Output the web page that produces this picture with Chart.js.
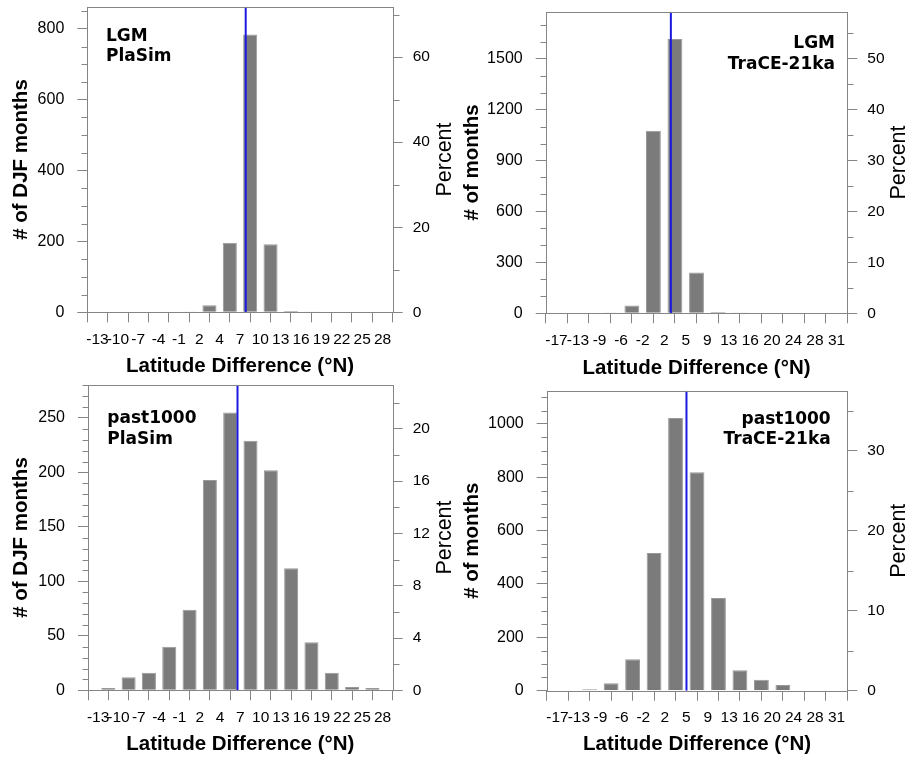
<!DOCTYPE html>
<html>
<head>
<meta charset="utf-8">
<script src="https://cdn.jsdelivr.net/npm/chart.js@4.4.0/dist/chart.umd.min.js"></script>
<style>
  html, body { margin: 0; padding: 0; background: #fff; }
  #wrap { position: relative; width: 908px; height: 757px; }
  canvas { position: absolute; }
</style>
</head>
<body>
<div id="wrap">
  <canvas id="c1" width="454" height="378" style="left:0;top:0"></canvas>
  <canvas id="c2" width="454" height="378" style="left:454px;top:0"></canvas>
  <canvas id="c3" width="454" height="379" style="left:0;top:378px"></canvas>
  <canvas id="c4" width="454" height="379" style="left:454px;top:378px"></canvas>
</div>
<script>
// bin edges (tick labels, °N)
const plasimEdges = ['-13', '-10', '-7', '-4', '-1', '2', '4', '7', '10', '13', '16', '19', '22', '25', '28'];
const traceEdges = ['-17', '-13', '-9', '-6', '-2', '2', '5', '9', '13', '16', '20', '24', '28', '31'];

// counts per bin
const lgmPlasimCounts = [0, 0, 0, 0, 2, 20, 196, 784, 192, 4, 2, 0, 0, 0];
const lgmTraceCounts = [0, 0, 1, 46, 1075, 1615, 240, 7, 1, 0, 0, 0, 0];
const pastPlasimCounts = [2, 12, 16, 40, 74, 193, 255, 229, 202, 112, 44, 16, 3, 2];
const pastTraceCounts = [0, 5, 28, 118, 516, 1022, 819, 347, 77, 41, 21, 0, 0];

// total number of months in each run (Percent axis)
const lgmPlasimTotal = 1200;
const lgmTraceTotal = 3000;
const pastPlasimTotal = 1200;
const pastTraceTotal = 3000;

// mean position (blue line), in bins from the left edge
const lgmPlasimMean = 7.28;
const lgmTraceMean = 5.31;
const pastPlasimMean = 6.86;
const pastTraceMean = 6.01;

const axisColor = '#858585';
const barColor = '#7b7b7b';
const meanColor = 'rgb(25, 25, 225)';
const fontFamily = '"Liberation Sans", Arial, sans-serif';

const panels = [
  { id: 'c1', edges: plasimEdges, counts: lgmPlasimCounts, total: lgmPlasimTotal, mean: lgmPlasimMean,
    ytitle: '# of DJF months', label: ['LGM', 'PlaSim'], major: 200, minor: 50, pMajor: 20, pMinor: 10,
    L: 87.3, R: 392.7, T: 6.7, B: 312.3, H: 378, xtY: 366.7, ytX: 21.7,
    labelAlign: 'left', labelDx: 18.7, labelDy: 34 },
  { id: 'c2', edges: traceEdges, counts: lgmTraceCounts, total: lgmTraceTotal, mean: lgmTraceMean,
    ytitle: '# of months', label: ['LGM', 'TraCE-21ka'], major: 300, minor: 100, pMajor: 10, pMinor: 5,
    L: 91.7, R: 393.3, T: 11.7, B: 313.3, H: 378, xtY: 368.3, ytX: 18.3,
    labelAlign: 'right', labelDx: 12.3, labelDy: 36.6 },
  { id: 'c3', edges: plasimEdges, counts: pastPlasimCounts, total: pastPlasimTotal, mean: pastPlasimMean,
    ytitle: '# of DJF months', label: ['past1000', 'PlaSim'], major: 50, minor: 10, pMajor: 4, pMinor: 2,
    L: 88, R: 392.7, T: 6.7, B: 312.3, H: 379, xtY: 366.7, ytX: 21.7,
    labelAlign: 'left', labelDx: 19.3, labelDy: 38.3 },
  { id: 'c4', edges: traceEdges, counts: pastTraceCounts, total: pastTraceTotal, mean: pastTraceMean,
    ytitle: '# of months', label: ['past1000', 'TraCE-21ka'], major: 200, minor: 50, pMajor: 10, pMinor: 5,
    L: 92.7, R: 393.3, T: 12.7, B: 312.7, H: 379, xtY: 366.7, ytX: 18.3,
    labelAlign: 'right', labelDx: 16.6, labelDy: 33 }
];

// ticks at every multiple of step, up to the axis max
const stepTicks = step => s => {
  s.ticks = [];
  for (let v = 0; v <= s.max + 1e-9; v += step) s.ticks.push({ value: v });
};

// frame, minor ticks, run label and right-hand "Percent" title
const panelPlugin = {
  id: 'panel',
  afterDraw(chart, args, o) {
    const { ctx, chartArea: a } = chart;
    const yL = chart.scales.y, yR = chart.scales.y2;
    ctx.save();
    ctx.strokeStyle = axisColor;
    ctx.lineWidth = 1;
    const l = Math.round(a.left) + 0.5, t = Math.round(a.top) + 0.5;
    const r = Math.round(a.right) + 0.5, b = Math.round(a.bottom) + 0.5;
    ctx.strokeRect(l, t, r - l, b - t);

    const isMajor = (v, m) => Math.abs(v / m - Math.round(v / m)) < 1e-6;
    ctx.beginPath();
    for (let v = o.minor; v < yL.max; v += o.minor) {
      if (isMajor(v, o.major)) continue;
      const py = Math.round(yL.getPixelForValue(v)) + 0.5;
      ctx.moveTo(l - 6, py); ctx.lineTo(l, py);
    }
    for (let v = o.pMinor; v < yR.max; v += o.pMinor) {
      if (isMajor(v, o.pMajor)) continue;
      const py = Math.round(yR.getPixelForValue(v)) + 0.5;
      ctx.moveTo(r, py); ctx.lineTo(r + 6, py);
    }
    ctx.stroke();

    ctx.fillStyle = '#000';
    ctx.font = 'bold 17px "DejaVu Sans"';
    ctx.textAlign = o.labelAlign;
    ctx.textBaseline = 'alphabetic';
    const x = o.labelAlign === 'left' ? a.left + o.labelDx : a.right - o.labelDx;
    o.label.forEach((txt, i) => ctx.fillText(txt, x, a.top + o.labelDy + i * 20.5));

    ctx.font = '21.5px ' + fontFamily;
    ctx.textAlign = 'center';
    ctx.textBaseline = 'middle';
    ctx.translate(445, (a.top + a.bottom) / 2);
    ctx.rotate(-Math.PI / 2);
    ctx.fillText('Percent', 0, 0);
    ctx.restore();
  }
};

panels.forEach(p => {
  const n = p.counts.length;
  const ymax = Math.max(...p.counts) * 1.1;
  const W = 454;

  new Chart(document.getElementById(p.id), {
    data: {
      datasets: [
        {
          type: 'bar',
          data: p.counts.map((c, i) => ({ x: i + 0.5, y: c })),
          backgroundColor: barColor,
          borderColor: '#999999',
          borderWidth: 1,
          barPercentage: 0.69,
          categoryPercentage: 1,
          order: 1
        },
        {
          type: 'line',
          data: [{ x: p.mean, y: 0 }, { x: p.mean, y: ymax }],
          borderColor: meanColor,
          borderWidth: 2,
          pointRadius: 0,
          order: 0
        }
      ]
    },
    plugins: [panelPlugin],
    options: {
      responsive: false,
      animation: false,
      layout: { padding: { top: p.T, left: 0, right: 0, bottom: 0 } },
      plugins: {
        legend: { display: false },
        tooltip: { enabled: false },
        panel: {
          label: p.label, labelAlign: p.labelAlign, labelDx: p.labelDx, labelDy: p.labelDy,
          major: p.major, minor: p.minor, pMajor: p.pMajor, pMinor: p.pMinor
        }
      },
      scales: {
        x: {
          type: 'linear',
          min: 0,
          max: n,
          afterFit: s => { s.height = p.H - p.B; s.paddingLeft = 0; s.paddingRight = 0; },
          afterBuildTicks: stepTicks(1),
          border: { display: false },
          grid: { drawOnChartArea: false, color: axisColor, tickLength: 10 },
          ticks: {
            autoSkip: false, maxRotation: 0, minRotation: 0, padding: 8,
            color: '#000', font: { family: fontFamily, size: 15.5 },
            callback: v => p.edges[Math.round(v)]
          },
          title: {
            display: true, text: 'Latitude Difference (°N)', color: '#000',
            font: { family: fontFamily, size: 20.5, weight: 'bold', lineHeight: 1 },
            padding: { top: 0, bottom: (p.H - p.xtY) - 10.25 }
          }
        },
        y: {
          position: 'left',
          min: 0,
          max: ymax,
          afterFit: s => { s.width = p.L; s.paddingTop = 0; s.paddingBottom = 0; },
          afterBuildTicks: stepTicks(p.major),
          border: { display: false },
          grid: { drawOnChartArea: false, color: axisColor, tickLength: 10 },
          ticks: {
            padding: 13, color: '#000', font: { family: fontFamily, size: 16 },
            callback: v => String(Math.round(v))
          },
          title: {
            display: true, text: p.ytitle, color: '#000',
            font: { family: fontFamily, size: 20.5, weight: 'bold', lineHeight: 1 },
            padding: { top: p.ytX - 10.25, bottom: 0 }
          }
        },
        y2: {
          position: 'right',
          min: 0,
          max: ymax / p.total * 100,
          afterFit: s => { s.width = W - p.R; s.paddingTop = 0; s.paddingBottom = 0; },
          afterBuildTicks: stepTicks(p.pMajor),
          border: { display: false },
          grid: { drawOnChartArea: false, color: axisColor, tickLength: 10 },
          ticks: {
            padding: 10, color: '#000', font: { family: fontFamily, size: 15.5 },
            callback: v => String(Math.round(v))
          }
        }
      }
    }
  });
});
</script>
</body>
</html>
